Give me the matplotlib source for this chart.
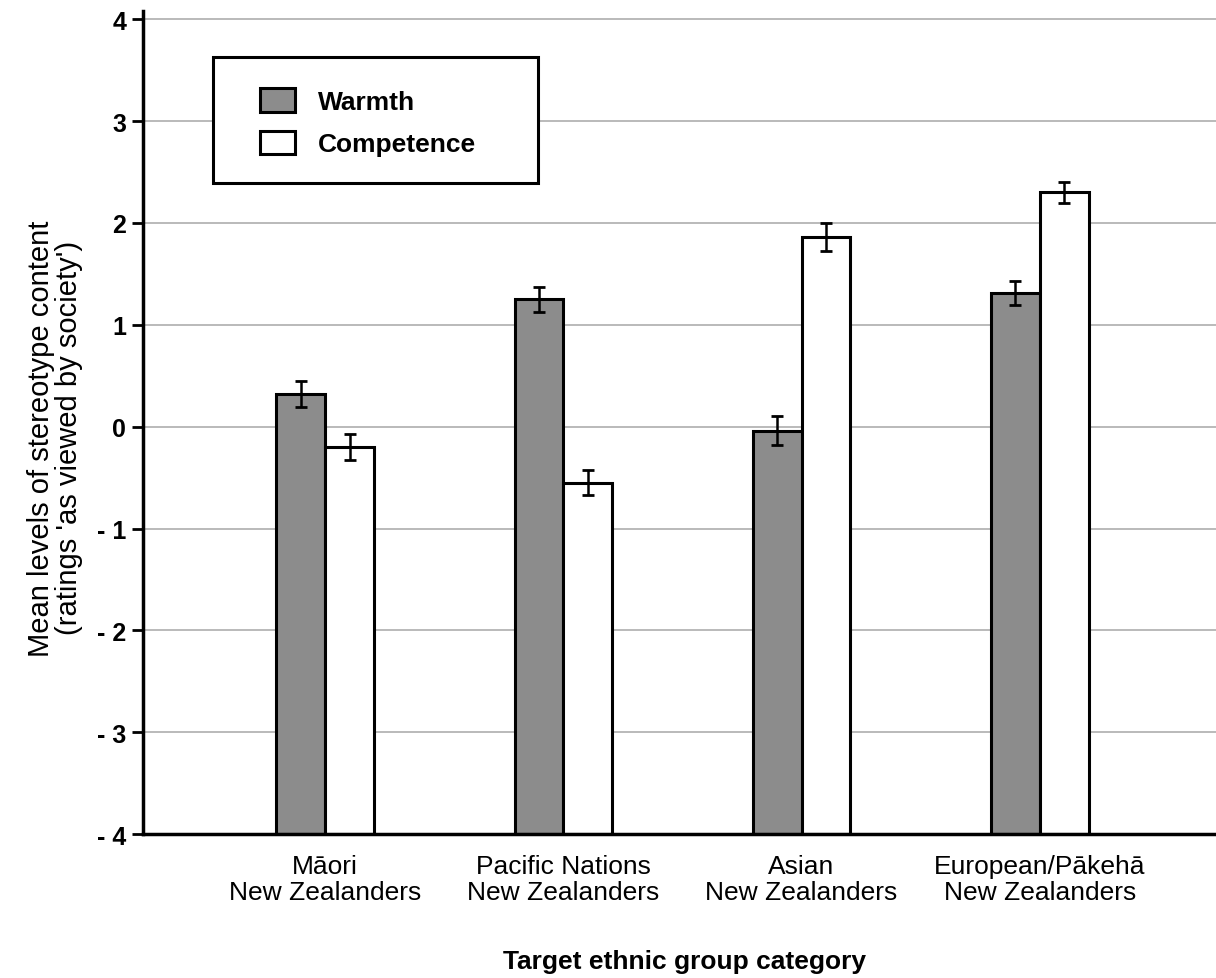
import matplotlib

matplotlib.use("Agg")
import matplotlib.pyplot as plt
import numpy as np
from matplotlib.patches import Patch, Rectangle

plt.rcParams["font.family"] = ["Liberation Sans", "DejaVu Sans"]

# data
groups = ["Māori\nNew Zealanders", "Pacific Nations\nNew Zealanders", "Asian\nNew Zealanders", "European/Pākehā\nNew Zealanders"]
warmth = [0.32, 1.25, -0.04, 1.31]
warmth_err = [0.13, 0.12, 0.14, 0.12]
competence = [-0.20, -0.55, 1.86, 2.30]
competence_err = [0.13, 0.12, 0.14, 0.10]
y_ticks = [4, 3, 2, 1, 0, -1, -2, -3, -4]
y_tick_labels = ["4", "3", "2", "1", "0", "- 1", "- 2", "- 3", "- 4"]

WARM_COLOR = "#8c8c8c"
BAR_W = 0.205
Y_MIN = -4  # bars grow up from the floor of the axis, not from zero

fig = plt.figure(figsize=(12.16, 9.79), dpi=100)
ax = fig.add_axes([0.1176, 0.147, 0.8824, 0.8407])

x = np.arange(len(groups))
err_kw = dict(ecolor="black", elinewidth=1.8, capsize=4.5, capthick=2)
ax.bar(x - BAR_W / 2, np.array(warmth) - Y_MIN, BAR_W, bottom=Y_MIN, yerr=warmth_err,
       color=WARM_COLOR, edgecolor="black", linewidth=2.2, error_kw=err_kw, zorder=3)
ax.bar(x + BAR_W / 2, np.array(competence) - Y_MIN, BAR_W, bottom=Y_MIN, yerr=competence_err,
       color="white", edgecolor="black", linewidth=2.2, error_kw=err_kw, zorder=3)

ax.set_xlim(-0.765, 3.74)
ax.set_ylim(Y_MIN, 4.08)
ax.set_yticks(y_ticks)
ax.set_yticklabels(y_tick_labels, fontsize=18, fontweight="bold")
ax.set_xticks(x)
ax.set_xticklabels(groups, fontsize=19, linespacing=1.15)
ax.tick_params(axis="x", length=0, pad=14)
ax.tick_params(axis="y", length=8, width=2, direction="out", pad=4)

ax.grid(axis="y", color="#b4b4b4", linewidth=1.3, zorder=0)
ax.set_axisbelow(True)
for side in ("top", "right"):
    ax.spines[side].set_visible(False)
for side in ("left", "bottom"):
    ax.spines[side].set_linewidth(2.5)
    ax.spines[side].set_zorder(4)

ax.set_ylabel("Mean levels of stereotype content\n(ratings 'as viewed by society')", fontsize=21, va="center", linespacing=1.0)
ax.yaxis.set_label_coords(-0.082, 0.482)
ax.set_xlabel("Target ethnic group category", fontsize=19, fontweight="bold", va="center")
ax.xaxis.set_label_coords(0.505, -0.154)

# legend: white box drawn by hand, entries from legend()
ax.add_patch(Rectangle((0.065, 0.791), 0.303, 0.153, transform=ax.transAxes, facecolor="white",
                       edgecolor="black", linewidth=2.2, zorder=5))
handles = [
    Patch(facecolor=WARM_COLOR, edgecolor="black", linewidth=2.2, label="Warmth"),
    Patch(facecolor="white", edgecolor="black", linewidth=2.2, label="Competence"),
]
leg = ax.legend(handles=handles, loc="upper left", bbox_to_anchor=(0.109, 0.906), frameon=False,
                borderpad=0, borderaxespad=0, handlelength=1.33, handleheight=1.0, handletextpad=0.85,
                labelspacing=0.62, prop={"size": 19, "weight": "bold"})
leg.set_zorder(6)

fig.savefig("out.png", dpi=100)
